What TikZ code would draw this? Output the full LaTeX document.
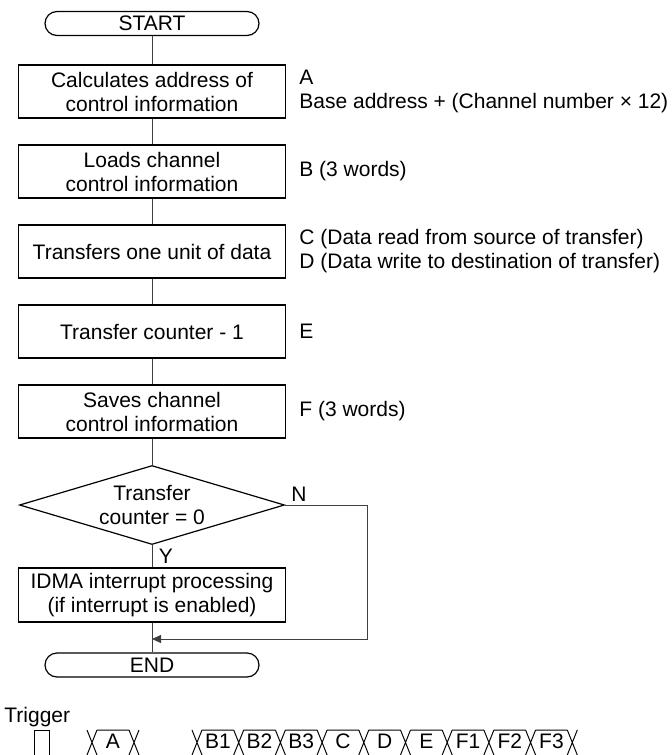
\documentclass[tikz,border=0pt]{standalone}
\usepackage{fontspec}
\setmainfont{Liberation Sans}
\usetikzlibrary{positioning,arrows.meta,shapes.geometric}

\begin{document}
\begin{tikzpicture}[
    x=0.5pt, y=-0.5pt,
    font=\fontsize{10.5pt}{12pt}\selectfont,
    proc/.style={draw, line width=0.6pt, minimum width=133.5pt,
                 minimum height=26.5pt, align=center, inner sep=2pt},
    term/.style={draw, line width=0.6pt, rounded corners=6pt,
                 minimum width=107pt, minimum height=12pt, inner sep=0pt},
    dec/.style={draw, diamond, line width=0.6pt, minimum width=132.5pt,
                minimum height=39.5pt, inner sep=0pt},
    note/.style={anchor=west, align=left, inner sep=0pt},
    link/.style={line width=0.5pt, color=black!75},
    bus/.style={line width=0.5pt}]
  \useasboundingbox (0,0) rectangle (671,755);
  % flow chart
  \node[term] (start) at (152,23.5) {START};
  \node[proc] (addr) at (152,91.5) {Calculates address of\\control information};
  \node[proc] (load) at (152,171.5) {Loads channel\\control information};
  \node[proc] (xfer) at (152,251.5) {Transfers one unit of data};
  \node[proc] (count) at (152,331.5) {Transfer counter - 1};
  \node[proc] (save) at (152,411.5) {Saves channel\\control information};
  \node[dec, label={[align=center]center:Transfer\\counter = 0}] (zero) at (152,505) {};
  \node[proc, minimum height=27pt] (intr) at (152,595) {IDMA interrupt processing\\(if interrupt is enabled)};
  \node[term] (end) at (152,665) {END};
  \coordinate (merge) at (152,639);

  \draw[link] (start) -- (addr);
  \draw[link] (addr) -- (load);
  \draw[link] (load) -- (xfer);
  \draw[link] (xfer) -- (count);
  \draw[link] (count) -- (save);
  \draw[link] (save) -- (zero);
  \draw[link] (zero) -- (intr);
  \draw[link] (intr) -- (end);
  \draw[link, -{Triangle[length=4.5pt,width=4pt]}] (zero.east) -- (367,505) |- (merge);
  \node (yes) at (166,556) {Y};
  \node (no) at (299,494) {N};

  % notes
  \node[note] (noteA) at (299,91.5) {A\\Base address + (Channel number × 12)};
  \node[note] (noteB) at (299,171.5) {B (3 words)};
  \node[note] (noteCD) at (299,251.5) {C (Data read from source of transfer)\\D (Data write to destination of transfer)};
  \node[note] (noteE) at (299,331.5) {E};
  \node[note] (noteF) at (299,411.5) {F (3 words)};

  % timing
  \node[anchor=base west, inner sep=0pt] (trig) at (4,722) {Trigger};
  \draw[bus] (34,755) -- (34,730) -- (49,730) -- (49,755);
  \foreach \xa/\xb/\lbl in {92/134/A, 197/238.7/B1, 238.7/280.4/B2,
      280.4/322.1/B3, 322.1/363.8/C, 363.8/405.5/D, 405.5/447.2/E,
      447.2/488.9/F1, 488.9/530.6/F2, 530.6/572.3/F3} {
    \draw[bus] (\xa-5,730) -- (\xa+5,755) (\xa+5,730) -- (\xa-5,755)
      (\xa+5,730) -- (\xb-5,730);
    \node (cell-\lbl) at ({(\xa+\xb)/2},741.5) {\lbl};
  }
  \foreach \xa in {134, 572.3}
    \draw[bus] (\xa-5,730) -- (\xa+5,755) (\xa+5,730) -- (\xa-5,755);
\end{tikzpicture}
\end{document}
